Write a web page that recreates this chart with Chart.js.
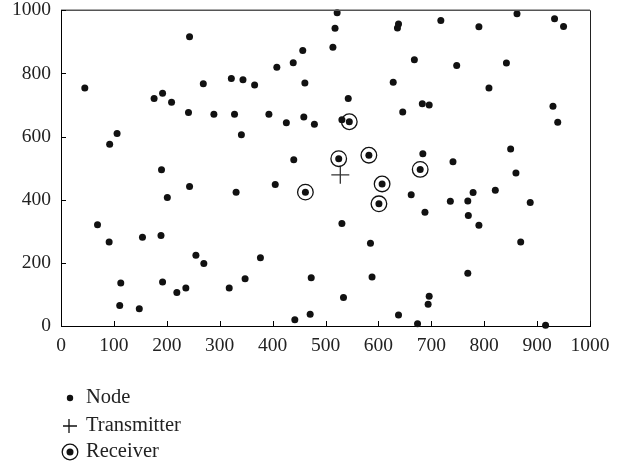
<!DOCTYPE html>
<html>
<head>
<meta charset="utf-8">
<script src="https://cdn.jsdelivr.net/npm/chart.js@4.4.1/dist/chart.umd.min.js"></script>
<style>
  body { margin: 0; background: #fff; }
  #wrap { width: 627px; height: 465px; position: relative; }
</style>
</head>
<body>
<div id="wrap"><canvas id="chart"></canvas></div>
<script>
// node positions
let nodeX = [45, 243, 92, 106, 176, 192, 209, 241, 269, 289, 322, 328, 190, 522, 518, 638, 636, 514, 457, 439,
             408, 344, 366, 461, 628, 543, 393, 426, 459, 479, 531, 646, 341, 440, 718, 790, 862, 933, 950, 668,
             748, 842, 809, 683, 696, 930, 939, 684, 850, 741, 243, 201, 331, 69, 91, 154, 189, 255, 270, 113,
             192, 236, 219, 318, 111, 148, 405, 531, 585, 377, 348, 473, 588, 534, 471, 442, 638, 860, 662, 736,
             769, 779, 821, 887, 688, 770, 790, 869, 769, 696, 694, 674, 916];
let nodeY = [754, 916, 576, 610, 721, 737, 709, 676, 767, 671, 784, 671, 495, 992, 943, 957, 944, 883, 873, 834,
             820, 780, 763, 770, 772, 721, 671, 644, 662, 639, 653, 678, 606, 527, 968, 948, 989, 973, 949, 843,
             825, 833, 754, 704, 700, 696, 645, 546, 561, 520, 442, 407, 424, 321, 266, 281, 287, 224, 198, 136,
             139, 120, 106, 120, 65, 55, 448, 325, 262, 216, 150, 153, 155, 90, 37, 20, 35, 485, 416, 395,
             396, 423, 430, 391, 360, 350, 319, 266, 167, 94, 69, 7, 2];

let receiverX = [545, 525, 582, 462, 607, 601, 679];
let receiverY = [647, 530, 541, 424, 450, 387, 496];

let transmitterX = [528];
let transmitterY = [479];

let xTicks = [0, 100, 200, 300, 400, 500, 600, 700, 800, 900, 1000];
let yTicks = [0, 200, 400, 600, 800, 1000];

let legendLabels = ['Node', 'Transmitter', 'Receiver'];

function toPoints(xs, ys) {
    return xs.map((x, i) => ({ x: x, y: ys[i] }));
}

const ink = '#111';
const serif = '"Liberation Serif", "DejaVu Serif", serif';

// inward tick marks, box frame and the legend under the plot
const decorations = {
    id: 'decorations',
    afterDraw(chart) {
        const ctx = chart.ctx;
        const area = chart.chartArea;
        const xs = chart.scales.x;
        const ys = chart.scales.y;
        ctx.save();

        // top and right frame lines
        ctx.strokeStyle = '#555';
        ctx.lineWidth = 1.5;
        ctx.beginPath();
        ctx.moveTo(area.left, area.top);
        ctx.lineTo(area.right, area.top);
        ctx.stroke();
        ctx.strokeStyle = '#222';
        ctx.lineWidth = 1;
        ctx.beginPath();
        ctx.moveTo(area.right + 0.5, area.top);
        ctx.lineTo(area.right + 0.5, area.bottom);
        ctx.stroke();

        // ticks pointing into the plot
        ctx.strokeStyle = '#000';
        ctx.lineWidth = 1;
        ctx.beginPath();
        xTicks.forEach(v => {
            const px = Math.round(xs.getPixelForValue(v)) + 0.5;
            ctx.moveTo(px, area.bottom);
            ctx.lineTo(px, area.bottom - 5);
        });
        yTicks.forEach(v => {
            const py = Math.round(ys.getPixelForValue(v)) + 0.5;
            ctx.moveTo(area.left, py);
            ctx.lineTo(area.left + 5, py);
        });
        ctx.stroke();

        // legend
        const lx = 70, tx = 86;
        const rows = [398, 426, 452];
        ctx.fillStyle = ink;
        ctx.strokeStyle = ink;

        ctx.beginPath();
        ctx.arc(lx, rows[0], 3.2, 0, Math.PI * 2);
        ctx.fill();

        ctx.lineWidth = 1.3;
        ctx.beginPath();
        ctx.moveTo(lx - 7, rows[1]);
        ctx.lineTo(lx + 7, rows[1]);
        ctx.moveTo(lx - 1, rows[1] - 7);
        ctx.lineTo(lx - 1, rows[1] + 7);
        ctx.stroke();

        ctx.beginPath();
        ctx.arc(lx, rows[2], 7.8, 0, Math.PI * 2);
        ctx.stroke();
        ctx.beginPath();
        ctx.arc(lx, rows[2], 3.5, 0, Math.PI * 2);
        ctx.fill();

        ctx.font = '20.5px ' + serif;
        ctx.textBaseline = 'middle';
        ctx.fillStyle = '#222';
        legendLabels.forEach((t, i) => ctx.fillText(t, tx, rows[i]));

        ctx.restore();
    }
};

new Chart(document.getElementById('chart'), {
    type: 'scatter',
    data: {
        datasets: [
            {
                label: 'Node',
                data: toPoints(nodeX, nodeY),
                backgroundColor: ink,
                borderWidth: 0,
                pointRadius: 3.5
            },
            {
                label: 'Receiver',
                data: toPoints(receiverX, receiverY),
                backgroundColor: ink,
                borderWidth: 0,
                pointRadius: 3.5
            },
            {
                label: 'Receiver ring',
                data: toPoints(receiverX, receiverY),
                backgroundColor: 'rgba(0,0,0,0)',
                borderColor: ink,
                borderWidth: 1.3,
                pointRadius: 7.8
            },
            {
                label: 'Transmitter',
                data: toPoints(transmitterX, transmitterY),
                pointStyle: 'cross',
                borderColor: '#333',
                borderWidth: 1.3,
                pointRadius: 9
            }
        ]
    },
    options: {
        responsive: true,
        maintainAspectRatio: false,
        animation: false,
        clip: false,
        layout: { padding: { top: 6, right: 37, left: 0, bottom: 0 } },
        plugins: {
            legend: { display: false },
            tooltip: { enabled: false }
        },
        scales: {
            x: {
                type: 'linear',
                min: 0,
                max: 1000,
                afterBuildTicks: s => { s.ticks = xTicks.map(v => ({ value: v })); },
                afterFit: s => { s.height = 139; s.paddingLeft = 0; s.paddingRight = 0; },
                grid: { display: false, drawTicks: false },
                border: { display: true, color: '#000', width: 1 },
                ticks: {
                    padding: 8,
                    color: '#222',
                    font: { family: serif, size: 19.5 },
                    callback: v => String(v)
                }
            },
            y: {
                type: 'linear',
                min: 0,
                max: 1000,
                afterBuildTicks: s => { s.ticks = yTicks.map(v => ({ value: v })); },
                afterFit: s => { s.width = 61; s.paddingTop = 0; s.paddingBottom = 0; },
                grid: { display: false, drawTicks: false },
                border: { display: true, color: '#000', width: 1 },
                ticks: {
                    padding: 10,
                    color: '#222',
                    font: { family: serif, size: 19.5 },
                    callback: v => String(v)
                }
            }
        }
    },
    plugins: [decorations]
});
</script>
</body>
</html>
